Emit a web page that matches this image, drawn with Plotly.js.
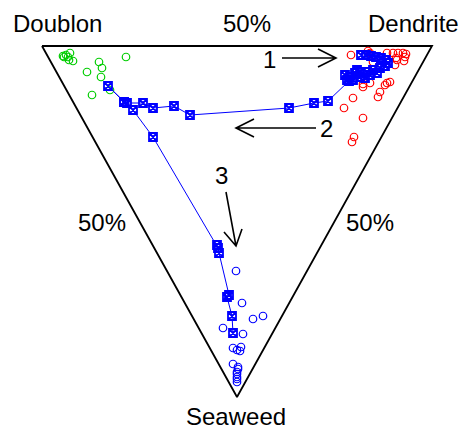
<!DOCTYPE html>
<html>
<head>
<meta charset="utf-8">
<script src="https://cdn.plot.ly/plotly-3.0.1.min.js"></script>
<style>html,body{margin:0;padding:0;background:#fff;}#chart{width:464px;height:431px;}</style>
</head>
<body>
<div id="chart"></div>
<script>
// Ternary-style plot coordinates: Doublon corner (0,351), Dendrite corner (390,351), Seaweed corner (195,0)
const cornerNames = ["Doublon", "Dendrite", "Seaweed"];
const triX = [0, 390, 195, 0];
const triY = [351, 351, 0, 351];

// Doublon samples (green)
const doublonX = [21, 24, 28, 26, 27, 31, 22, 84, 57, 60, 45, 59, 50, 68];
const doublonY = [341, 342, 344, 340, 337, 336, 340, 340, 335, 329, 325, 320, 302, 307];

// Dendrite samples (red)
const dendriteX = [309, 326, 328, 345, 351, 356, 361, 364, 363, 354, 362, 355, 353, 331, 321, 328, 345, 348, 343, 338, 336, 321, 311, 302, 321, 312, 310];
const dendriteY = [342, 346, 344, 344, 344, 344, 344, 343, 340, 339, 336, 337, 332, 335, 313, 314, 314, 315, 312, 305, 300, 310, 299, 289, 279, 260, 255];

// Seaweed samples (blue)
const seaweedX = [194, 200, 211, 221, 181, 201, 191, 195, 199, 198, 191, 196, 196, 195, 195, 195, 195, 195];
const seaweedY = [126, 94, 78, 81, 69, 63, 49, 47, 50, 46, 33, 30, 28, 25, 23, 20, 18, 15];

// Trajectory (blue squares with line)
const pathX = [319, 324, 329, 334, 339, 344, 346, 343, 338, 331, 325, 318, 313, 308, 303, 305, 311, 318, 323, 328, 335, 315, 307, 286, 272, 247, 148, 132, 111, 101, 85, 82, 66, 82, 91, 111, 175, 176, 177, 187, 185, 190, 191];
const pathY = [342, 342, 341, 340, 339, 337, 334, 331, 329, 327, 325, 325, 324, 320, 322, 317, 317, 320, 319, 322, 324, 327, 316, 296, 294, 289, 282, 291, 289, 294, 294, 295, 311, 295, 287, 260, 152, 149, 144, 102, 100, 81, 64];

const labels = ["50%", "1", "2", "3"];

const fontFam = "Liberation Sans, Arial, Helvetica, sans-serif";

const traces = [
  {x: triX, y: triY, mode: "lines", line: {color: "#000", width: 1.8}, hoverinfo: "skip", showlegend: false},
  {x: doublonX, y: doublonY, mode: "markers", marker: {symbol: "circle-open", size: 7.5, color: "#00CD00", line: {width: 1.2}}, showlegend: false},
  {x: dendriteX, y: dendriteY, mode: "markers", marker: {symbol: "circle-open", size: 7.5, color: "#FF0000", line: {width: 1.2}}, showlegend: false},
  {x: seaweedX, y: seaweedY, mode: "markers", marker: {symbol: "circle-open", size: 7.5, color: "#0000FF", line: {width: 1.2}}, showlegend: false},
  {x: pathX, y: pathY, mode: "lines+markers", line: {color: "#0000FF", width: 1}, marker: {symbol: "square-x-open", size: 8, color: "#0000FF", line: {width: 1.8}}, showlegend: false}
];

function txt(t, x, y, size) {
  return {text: t, x: x, y: y, xref: "x", yref: "y", showarrow: false, xanchor: "center", yanchor: "middle", font: {family: fontFam, size: size, color: "#000"}};
}

const annotations = [
  txt(cornerNames[0], 15, 374, 24),
  txt(labels[0], 205, 374, 24),
  txt(cornerNames[1], 371, 374, 24),
  txt(cornerNames[2], 194, -19, 24),
  txt(labels[0], 60, 175, 24),
  txt(labels[0], 328, 175, 24),
  txt(labels[1], 227, 338, 24),
  txt(labels[2], 284, 269, 24),
  txt(labels[3], 179, 222, 24)
];

function arrow(path) {
  return {type: "path", xref: "x", yref: "y", path: path, line: {color: "#000", width: 1.6}};
}

const shapes = [
  arrow("M240,339 L294,339 M276,348 L294,339 L276,330"),
  arrow("M274,269 L194,269 M212,278 L194,269 L212,260"),
  arrow("M184,205 L194,151 M200,168 L194,151 L182,165")
];

const layout = {
  width: 464, height: 431,
  margin: {l: 0, r: 0, t: 0, b: 0},
  paper_bgcolor: "#fff", plot_bgcolor: "#fff",
  xaxis: {range: [-42, 422], visible: false, fixedrange: true},
  yaxis: {range: [-34, 397], visible: false, fixedrange: true},
  annotations: annotations,
  shapes: shapes,
  showlegend: false
};

Plotly.newPlot("chart", traces, layout, {staticPlot: true, displayModeBar: false});
</script>
</body>
</html>
